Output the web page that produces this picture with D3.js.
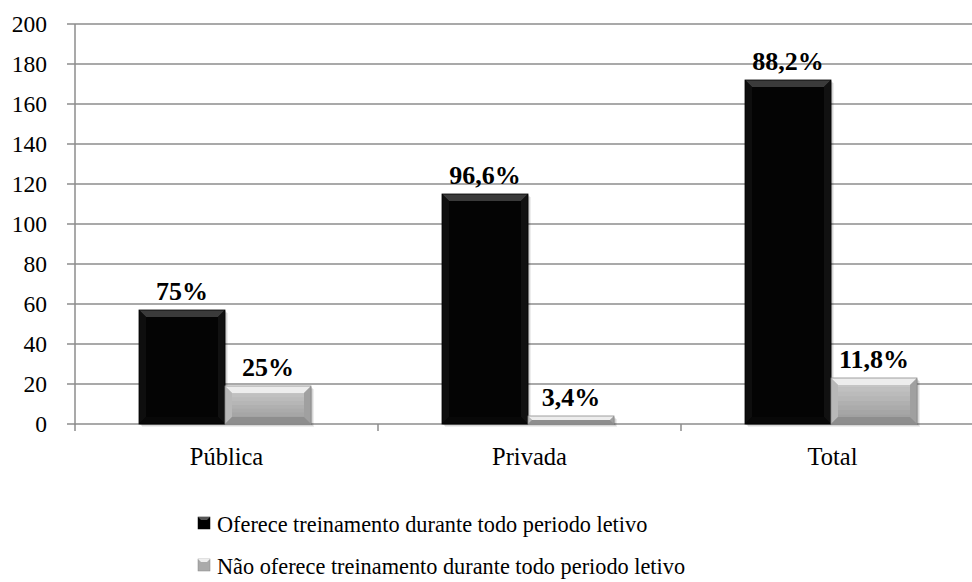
<!DOCTYPE html>
<html>
<head>
<meta charset="utf-8">
<script src="https://cdn.jsdelivr.net/npm/d3@7"></script>
</head>
<body style="margin:0">
<svg id="chart" width="972" height="582"></svg>
<script>
// data
var categories = ["Pública", "Privada", "Total"];
var seriesNames = ["Oferece treinamento durante todo periodo letivo",
                   "Não oferece treinamento durante todo periodo letivo"];
var oferece = [57, 115, 172];
var naoOferece = [19, 4, 23];
var labelsOferece = ["75%", "96,6%", "88,2%"];
var labelsNao = ["25%", "3,4%", "11,8%"];
var yTicks = [0, 20, 40, 60, 80, 100, 120, 140, 160, 180, 200];

var FONT = "Liberation Serif";

var svg = d3.select("#chart");
var margin = {left: 75, top: 24};
var height = 424 - margin.top;

var x0 = d3.scaleBand().domain(categories).range([margin.left, margin.left + 3 * 303]);
var x1 = d3.scaleBand().domain([0, 1]).range([64, 64 + 172]);
var y = d3.scaleLinear().domain([0, 200]).range([margin.top + height, margin.top]);

// gridlines
svg.append("g").selectAll("line").data(yTicks.slice(1)).enter().append("line")
    .attr("x1", margin.left).attr("x2", 972)
    .attr("y1", function(d) { return y(d); }).attr("y2", function(d) { return y(d); })
    .attr("stroke", "#8c8c8c").attr("stroke-width", 1.5);

// y axis ticks and labels
svg.append("line").attr("x1", margin.left).attr("x2", margin.left)
    .attr("y1", y(200)).attr("y2", y(0) + 1).attr("stroke", "#8c8c8c").attr("stroke-width", 1.5);
svg.append("g").selectAll("line").data(yTicks).enter().append("line")
    .attr("x1", margin.left - 8).attr("x2", margin.left)
    .attr("y1", function(d) { return y(d); }).attr("y2", function(d) { return y(d); })
    .attr("stroke", "#8c8c8c").attr("stroke-width", 1.5);
svg.append("g").selectAll("text").data(yTicks).enter().append("text")
    .attr("x", 47).attr("y", function(d) { return y(d) + 8; })
    .attr("text-anchor", "end").attr("font-size", 23.5)
    .attr("font-family", FONT)
    .text(function(d) { return d; });

// x axis
var xAxisY = y(0);
svg.append("line").attr("x1", margin.left).attr("x2", 972).attr("y1", xAxisY).attr("y2", xAxisY)
    .attr("stroke", "#8c8c8c").attr("stroke-width", 1.5);
svg.append("g").selectAll("line").data([0, 1, 2, 3]).enter().append("line")
    .attr("x1", function(d) { return margin.left + d * 303; })
    .attr("x2", function(d) { return margin.left + d * 303; })
    .attr("y1", xAxisY).attr("y2", xAxisY + 7)
    .attr("stroke", "#8c8c8c").attr("stroke-width", 1.5);
svg.append("g").selectAll("text").data(categories).enter().append("text")
    .attr("x", function(d) { return x0(d) + x0.bandwidth() / 2; })
    .attr("y", 465).attr("text-anchor", "middle").attr("font-size", 24.5)
    .attr("font-family", FONT)
    .text(function(d) { return d; });

function bevelBar(g, x, yTop, w, h, dark) {
    var b = Math.min(7, h / 2);
    // soft shadow
    [[4, 0.07], [3, 0.09], [2, 0.12]].forEach(function(s) {
        g.append("rect").attr("x", x + s[0] - 1).attr("y", yTop + s[0] - 1)
            .attr("width", w).attr("height", h)
            .attr("fill", "#000").attr("fill-opacity", s[1]);
    });
    g.append("rect").attr("x", x).attr("y", yTop).attr("width", w).attr("height", h)
        .attr("fill", dark ? "#040404" : "#a8a8a8");
    if (!dark) {
        // light-to-dark vertical shading
        var steps = 10;
        for (var k = 0; k < steps; k++) {
            var c = d3.interpolateRgb("#cacaca", "#9c9c9c")(k / (steps - 1));
            g.append("rect").attr("x", x).attr("y", yTop + h * k / steps)
                .attr("width", w).attr("height", h / steps + 0.5).attr("fill", c);
        }
    }
    // top bevel
    g.append("path")
        .attr("d", "M" + x + "," + yTop + "L" + (x + w) + "," + yTop + "L" + (x + w - b) + "," + (yTop + b) + "L" + (x + b) + "," + (yTop + b) + "Z")
        .attr("fill", dark ? "#3a3a3a" : "#ededed");
    // left bevel
    g.append("path")
        .attr("d", "M" + x + "," + yTop + "L" + (x + b) + "," + (yTop + b) + "L" + (x + b) + "," + (yTop + h - b) + "L" + x + "," + (yTop + h) + "Z")
        .attr("fill", dark ? "#0e0e0e" : "#b8b8b8");
    // right bevel
    g.append("path")
        .attr("d", "M" + (x + w) + "," + yTop + "L" + (x + w - b) + "," + (yTop + b) + "L" + (x + w - b) + "," + (yTop + h - b) + "L" + (x + w) + "," + (yTop + h) + "Z")
        .attr("fill", dark ? "#111" : "#a0a0a0");
    // bottom bevel
    g.append("path")
        .attr("d", "M" + x + "," + (yTop + h) + "L" + (x + b) + "," + (yTop + h - b) + "L" + (x + w - b) + "," + (yTop + h - b) + "L" + (x + w) + "," + (yTop + h) + "Z")
        .attr("fill", dark ? "#080808" : "#8e8e8e");
    g.append("rect").attr("x", x).attr("y", yTop).attr("width", w).attr("height", h)
        .attr("fill", "none").attr("stroke", dark ? "#000" : "#8a8a8a").attr("stroke-width", 0.8);
}

var bars = svg.append("g");
var labels = svg.append("g");
categories.forEach(function(c, i) {
    var vals = [oferece[i], naoOferece[i]];
    var labs = [labelsOferece[i], labelsNao[i]];
    vals.forEach(function(v, s) {
        var bx = x0(c) + x1(s);
        var bw = x1.bandwidth();
        bevelBar(bars, bx, y(v), bw, y(0) - y(v), s === 0);
        labels.append("text")
            .attr("x", bx + bw / 2).attr("y", y(v) - 10)
            .attr("text-anchor", "middle").attr("font-size", 26).attr("font-weight", "bold")
            .attr("font-family", FONT)
            .text(labs[s]);
    });
});

// legend
var legend = svg.append("g");
seriesNames.forEach(function(n, i) {
    var base = 532 + i * 42;
    var dark = i === 0;
    var mx = 198, my = base - 15, ms = 12;
    legend.append("rect").attr("x", mx).attr("y", my).attr("width", ms).attr("height", ms)
        .attr("fill", dark ? "#000" : "#aaa").attr("stroke", dark ? "#000" : "#888").attr("stroke-width", 0.5);
    legend.append("path")
        .attr("d", "M" + mx + "," + my + "L" + (mx + ms) + "," + my + "L" + (mx + ms - 3) + "," + (my + 3) + "L" + (mx + 3) + "," + (my + 3) + "Z")
        .attr("fill", dark ? "#555" : "#eee");
    legend.append("text").attr("x", 217).attr("y", base)
        .attr("font-size", 22.3).attr("font-family", FONT).text(n);
});
</script>
</body>
</html>
